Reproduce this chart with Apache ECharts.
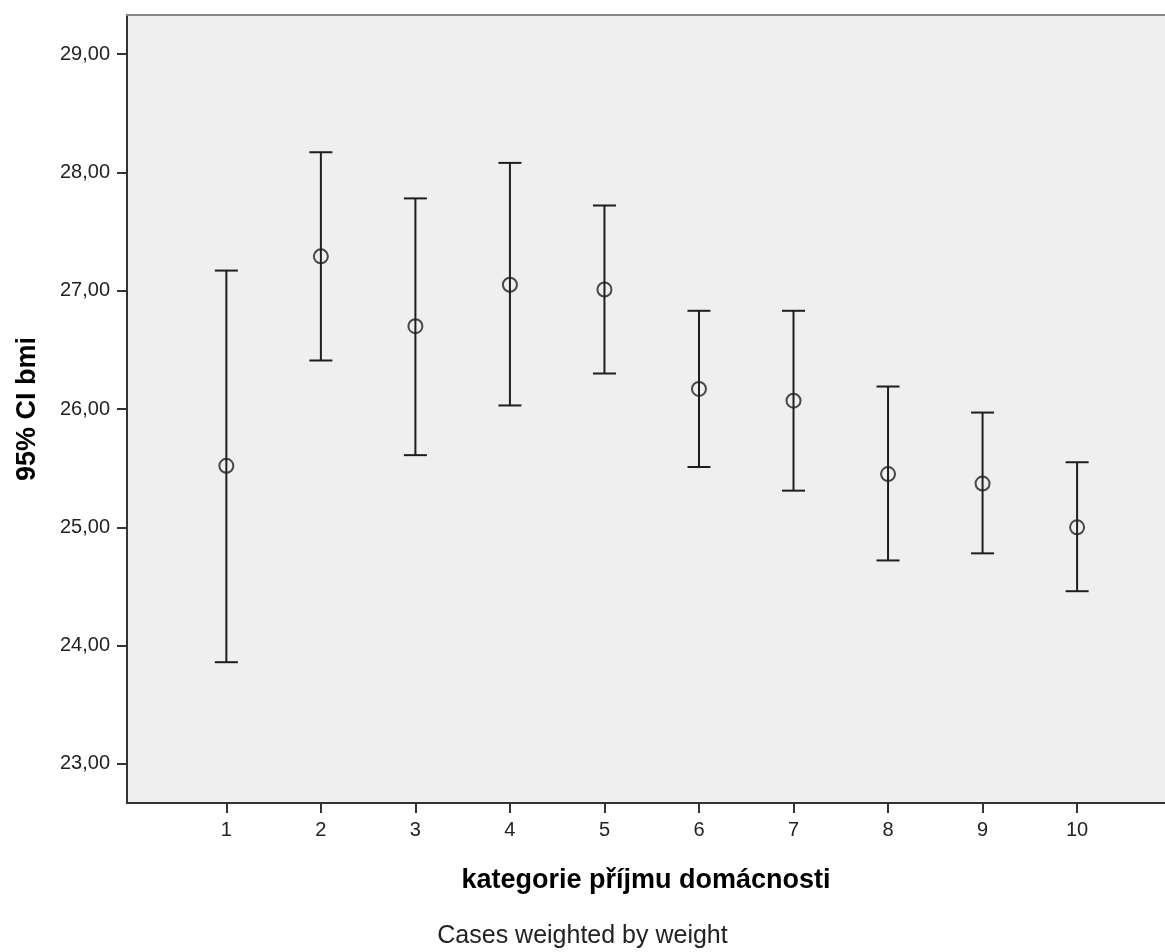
<!DOCTYPE html>
<html>
<head>
<meta charset="utf-8">
<script src="https://cdn.jsdelivr.net/npm/echarts@6/dist/echarts.min.js"></script>
<style>
html,body{margin:0;padding:0;background:#fff;}
#chart{width:1165px;height:952px;}
</style>
</head>
<body>
<div id="chart"></div>
<script>
const categories = [1, 2, 3, 4, 5, 6, 7, 8, 9, 10];
const means  = [25.52, 27.29, 26.70, 27.05, 27.01, 26.17, 26.07, 25.45, 25.37, 25.00];
const lowers = [23.86, 26.41, 25.61, 26.03, 26.30, 25.51, 25.31, 24.72, 24.78, 24.46];
const uppers = [27.17, 28.17, 27.78, 28.08, 27.72, 26.83, 26.83, 26.19, 25.97, 25.55];
const yTicks = [23, 24, 25, 26, 27, 28, 29];
const xTitle = 'kategorie příjmu domácnosti';
const yTitle = '95% CI bmi';
const footnote = 'Cases weighted by weight';

const chart = echarts.init(document.getElementById('chart'));
const fontFam = '"Liberation Sans", Arial, sans-serif';
const lineColor = '#1e1e1e';

const errData = categories.map((c, i) => [c, lowers[i], uppers[i]]);
const meanData = categories.map((c, i) => [c, means[i]]);

chart.setOption({
  animation: false,
  backgroundColor: '#ffffff',
  grid: {
    left: 127, right: 0, top: 15, bottom: 149,
    outerBoundsMode: 'none',
    containLabel: false,
    show: true, backgroundColor: '#efefef', borderWidth: 0
  },
  xAxis: [{
    type: 'value',
    min: -0.051, max: 10.93,
    splitLine: { show: false },
    axisLine: { show: true, onZero: false, lineStyle: { color: '#333', width: 2 } },
    axisTick: { show: true, length: 10, customValues: categories, lineStyle: { color: '#333', width: 2 } },
    axisLabel: { show: true, customValues: categories, margin: 17, fontSize: 20, color: '#222', fontFamily: fontFam },
    name: xTitle,
    nameLocation: 'middle',
    nameGap: 64,
    nameTextStyle: { fontSize: 27, fontWeight: 'bold', color: '#000', fontFamily: fontFam }
  }, {
    type: 'value',
    position: 'top',
    min: -0.051, max: 10.93,
    splitLine: { show: false },
    axisLine: { show: true, onZero: false, lineStyle: { color: '#888', width: 2 } },
    axisTick: { show: false },
    axisLabel: { show: false }
  }],
  yAxis: {
    type: 'value',
    min: 22.67, max: 29.33,
    splitLine: { show: false },
    axisLine: { show: true, onZero: false, lineStyle: { color: '#333', width: 2 } },
    axisTick: { show: true, length: 10, customValues: yTicks, lineStyle: { color: '#333', width: 2 } },
    axisLabel: {
      show: true, customValues: yTicks, margin: 17, fontSize: 20, color: '#222', fontFamily: fontFam,
      formatter: v => v.toFixed(2).replace('.', ',')
    },
    name: yTitle,
    nameLocation: 'middle',
    nameGap: 86,
    nameTextStyle: { fontSize: 27, fontWeight: 'bold', color: '#000', fontFamily: fontFam }
  },
  graphic: [{
    type: 'text',
    left: 'center',
    top: 924,
    style: { text: footnote, fontSize: 25, fill: '#222', fontFamily: fontFam }
  }],
  series: [{
    type: 'custom',
    data: errData,
    renderItem: function (params, api) {
      const x = api.value(0);
      const lo = api.coord([x, api.value(1)]);
      const hi = api.coord([x, api.value(2)]);
      const hw = 11.5;
      const style = { stroke: lineColor, lineWidth: 2 };
      return {
        type: 'group',
        children: [
          { type: 'line', shape: { x1: lo[0], y1: lo[1], x2: hi[0], y2: hi[1] }, style: style },
          { type: 'line', shape: { x1: hi[0] - hw, y1: hi[1], x2: hi[0] + hw, y2: hi[1] }, style: style },
          { type: 'line', shape: { x1: lo[0] - hw, y1: lo[1], x2: lo[0] + hw, y2: lo[1] }, style: style }
        ]
      };
    },
    z: 2
  }, {
    type: 'scatter',
    data: meanData,
    symbol: 'circle',
    symbolSize: 14,
    itemStyle: { color: 'rgba(0,0,0,0)', borderColor: lineColor, borderWidth: 2 },
    z: 3
  }]
});
</script>
</body>
</html>
